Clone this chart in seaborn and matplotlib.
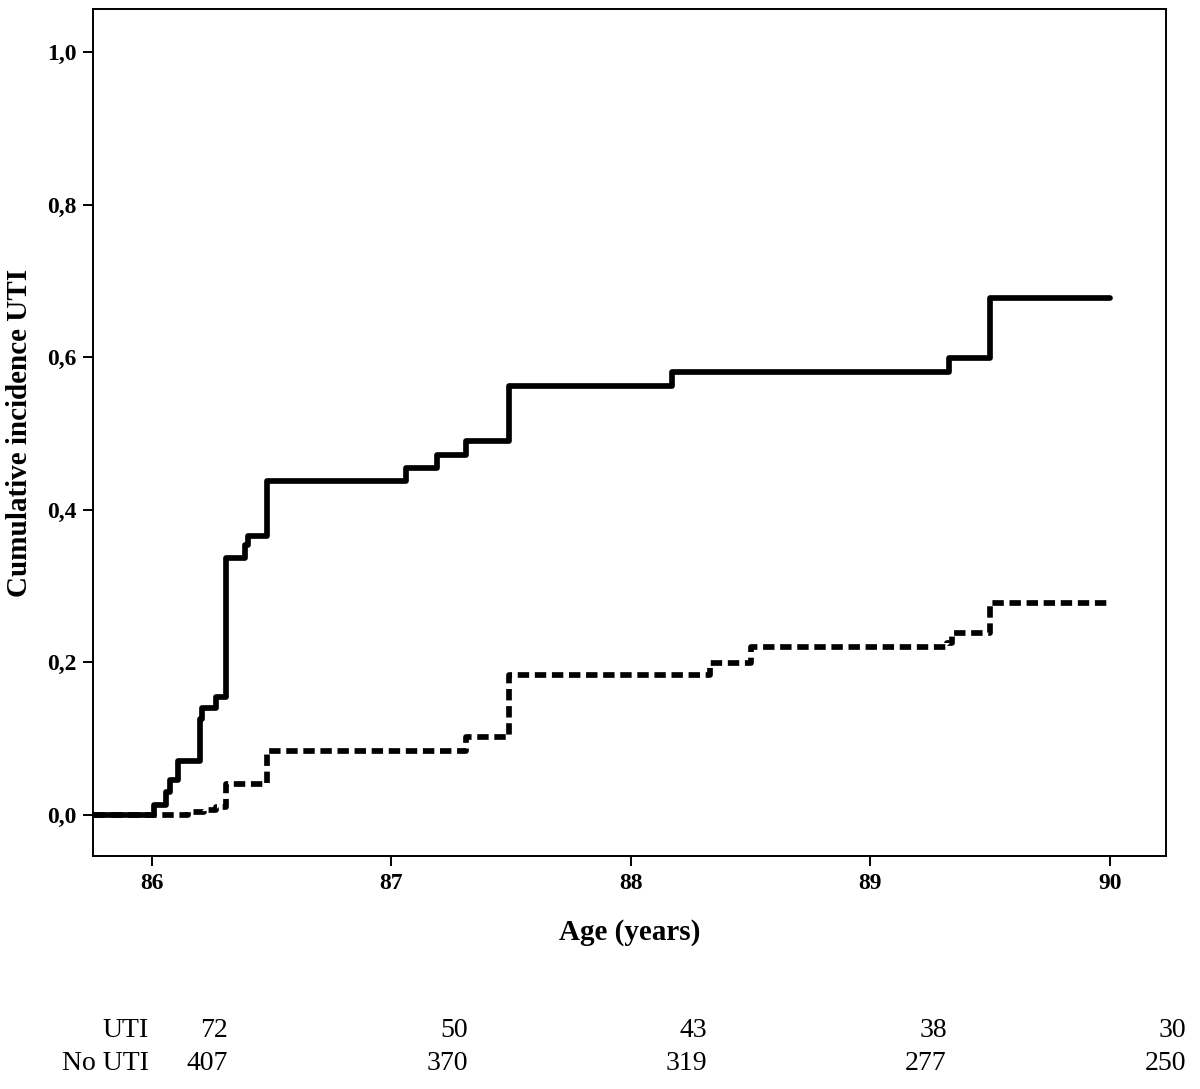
import numpy as np
import pandas as pd
import matplotlib
matplotlib.use("Agg")
import matplotlib.pyplot as plt
import matplotlib.transforms as mtransforms
import seaborn as sns

# step curves (age in years, cumulative incidence)
uti_age = [85.76, 86.01, 86.06, 86.075, 86.11, 86.20, 86.21, 86.27, 86.31,
           86.39, 86.40, 86.48, 87.06, 87.19, 87.31, 87.49, 88.17, 89.33,
           89.50, 90.00]
uti_cum = [0.0, 0.013, 0.030, 0.045, 0.070, 0.125, 0.140, 0.155, 0.337,
           0.353, 0.366, 0.437, 0.454, 0.471, 0.490, 0.562, 0.580, 0.599,
           0.677, 0.677]

no_uti_age = [85.76, 86.15, 86.22, 86.27, 86.31, 86.48, 87.31, 87.49,
              88.33, 88.50, 89.32, 89.34, 89.50, 90.00]
no_uti_cum = [0.0, 0.003, 0.006, 0.010, 0.040, 0.083, 0.102, 0.183,
              0.199, 0.220, 0.225, 0.238, 0.277, 0.277]

# numbers at risk
risk_ticks = [86, 87, 88, 89, 90]
risk_uti = [72, 50, 43, 38, 30]
risk_no_uti = [407, 370, 319, 277, 250]

y_ticks = [0.0, 0.2, 0.4, 0.6, 0.8, 1.0]

df = pd.concat([
    pd.DataFrame({"age": uti_age, "cum": uti_cum, "group": "UTI"}),
    pd.DataFrame({"age": no_uti_age, "cum": no_uti_cum, "group": "No UTI"}),
], ignore_index=True)

sns.set_style("ticks")
plt.rcParams["font.family"] = ["Liberation Serif", "DejaVu Serif"]
plt.rcParams["text.color"] = "black"
plt.rcParams["axes.labelcolor"] = "black"

fig = plt.figure(figsize=(12, 10.89), dpi=100)
ax = fig.add_axes([0.0775, 0.214, 0.894, 0.7775])

sns.lineplot(data=df, x="age", y="cum", style="group",
             dashes={"UTI": "", "No UTI": (2, 1)},
             estimator=None, sort=False, drawstyle="steps-post",
             color="black", linewidth=4.1, legend=False, ax=ax)

ax.set_xlim(85.755, 90.233)
ax.set_ylim(-0.054, 1.056)
ax.set_xticks(risk_ticks)
ax.set_xticklabels([str(t) for t in risk_ticks], fontsize=17, fontweight="bold")
ax.set_yticks(y_ticks)
ax.set_yticklabels([f"{t:.1f}".replace(".", ",") for t in y_ticks],
                   fontsize=17, fontweight="bold")
ax.tick_params(direction="out", length=7, width=1.4, pad=5,
               colors="black", labelcolor="black")

for s in ax.spines.values():
    s.set_visible(True)
    s.set_linewidth(1.4)
    s.set_color("black")

ax.set_xlabel("Age (years)", fontsize=21, fontweight="bold", labelpad=18)
ax.set_ylabel("Cumulative incidence UTI", fontsize=21, fontweight="bold", labelpad=10)

# numbers-at-risk table under the plot
trans = mtransforms.blended_transform_factory(ax.transData, fig.transFigure)
off = mtransforms.offset_copy(trans, fig=fig, x=55, y=0, units="points")
for t, a, b in zip(risk_ticks, risk_uti, risk_no_uti):
    ax.text(t, 0.0533, str(a), transform=off, ha="right", va="center",
            fontsize=20, clip_on=False)
    ax.text(t, 0.023, str(b), transform=off, ha="right", va="center",
            fontsize=20, clip_on=False)
fig.text(0.124, 0.0533, "UTI", ha="right", va="center", fontsize=20)
fig.text(0.124, 0.023, "No UTI", ha="right", va="center", fontsize=20)

fig.savefig("out.png", dpi=100)
